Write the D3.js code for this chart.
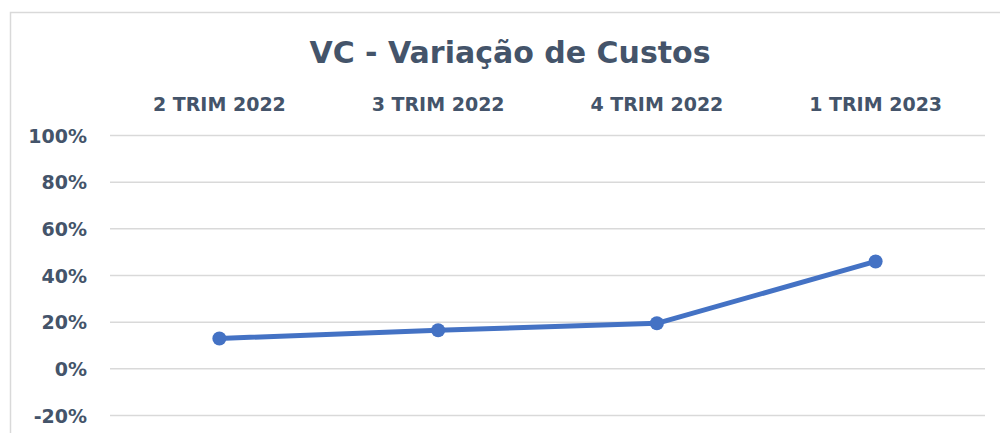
<!DOCTYPE html>
<html>
<head>
<meta charset="utf-8">
<script src="https://cdn.jsdelivr.net/npm/d3@7"></script>
<style>
  body { margin: 0; background: #fff; }
  svg { display: block; font-family: "DejaVu Sans", sans-serif; }
</style>
</head>
<body>
<svg id="chart" width="1000" height="433"></svg>
<script>
// data
var categories = ["2 TRIM 2022", "3 TRIM 2022", "4 TRIM 2022", "1 TRIM 2023"];
var values = [0.128, 0.163, 0.193, 0.458];
var yTicks = [-0.2, 0, 0.2, 0.4, 0.6, 0.8, 1.0];

var textColor = "#44546A",
  lineColor = "#4472C4",
  gridColor = "#D9D9D9";

var margin = { left: 110, right: 15, top: 135, bottom: 18 },
  W = 1000, H = 433;

var svg = d3.select("#chart");

// outer chart border (cropped at right/bottom)
svg.append("rect")
  .attr("x", 10.5).attr("y", 12.5)
  .attr("width", 1000).attr("height", 500)
  .attr("fill", "none")
  .attr("stroke", gridColor)
  .attr("stroke-width", 1.5);

var x = d3.scaleBand()
  .domain(categories)
  .range([margin.left, W - margin.right]);

var y = d3.scaleLinear()
  .domain([-0.2, 1.0])
  .range([415, 135]);

// title
svg.append("text")
  .attr("x", 510).attr("y", 63)
  .attr("text-anchor", "middle")
  .attr("fill", textColor)
  .style("font-size", "30px")
  .style("font-weight", "bold")
  .text("VC - Variação de Custos");

// gridlines
var gridAxis = d3.axisLeft(y)
  .tickValues(yTicks)
  .tickSize(-(W - margin.right - margin.left))
  .tickFormat("");

svg.append("g")
  .attr("transform", "translate(" + margin.left + ",0)")
  .call(gridAxis)
  .call(function(g) {
    g.select(".domain").remove();
    g.selectAll("line").attr("stroke", gridColor).attr("stroke-width", 1.5);
  });

// y labels (plain hyphen for negatives, like the original)
var pct = d3.format(".0%");
var yAxis = d3.axisLeft(y)
  .tickValues(yTicks)
  .tickSize(0)
  .tickPadding(0)
  .tickFormat(function(d) { return pct(d).replace("\u2212", "-"); });

svg.append("g")
  .attr("transform", "translate(87,1)")
  .call(yAxis)
  .call(function(g) {
    g.select(".domain").remove();
    g.selectAll("text")
      .attr("fill", textColor)
      .style("font-size", "19px")
      .style("font-weight", "bold")
      .style("font-family", "DejaVu Sans, sans-serif");
  });

// category labels on top
var xAxis = d3.axisTop(x).tickSize(0).tickPadding(0);
svg.append("g")
  .attr("transform", "translate(0,111)")
  .call(xAxis)
  .call(function(g) {
    g.select(".domain").remove();
    g.selectAll("text")
      .attr("fill", textColor)
      .style("font-size", "19px")
      .style("font-weight", "bold")
      .style("font-family", "DejaVu Sans, sans-serif");
  });

var cx = function(d, i) { return x(categories[i]) + x.bandwidth() / 2; };

var line = d3.line()
  .x(cx)
  .y(function(d) { return y(d); });

svg.append("path")
  .datum(values)
  .attr("d", line)
  .attr("fill", "none")
  .attr("stroke", lineColor)
  .attr("stroke-width", 5)
  .attr("stroke-linejoin", "round");

svg.selectAll(".dot")
  .data(values)
  .enter()
  .append("circle")
  .attr("class", "dot")
  .attr("cx", cx)
  .attr("cy", function(d) { return y(d); })
  .attr("r", 7)
  .attr("fill", lineColor);
</script>
</body>
</html>
